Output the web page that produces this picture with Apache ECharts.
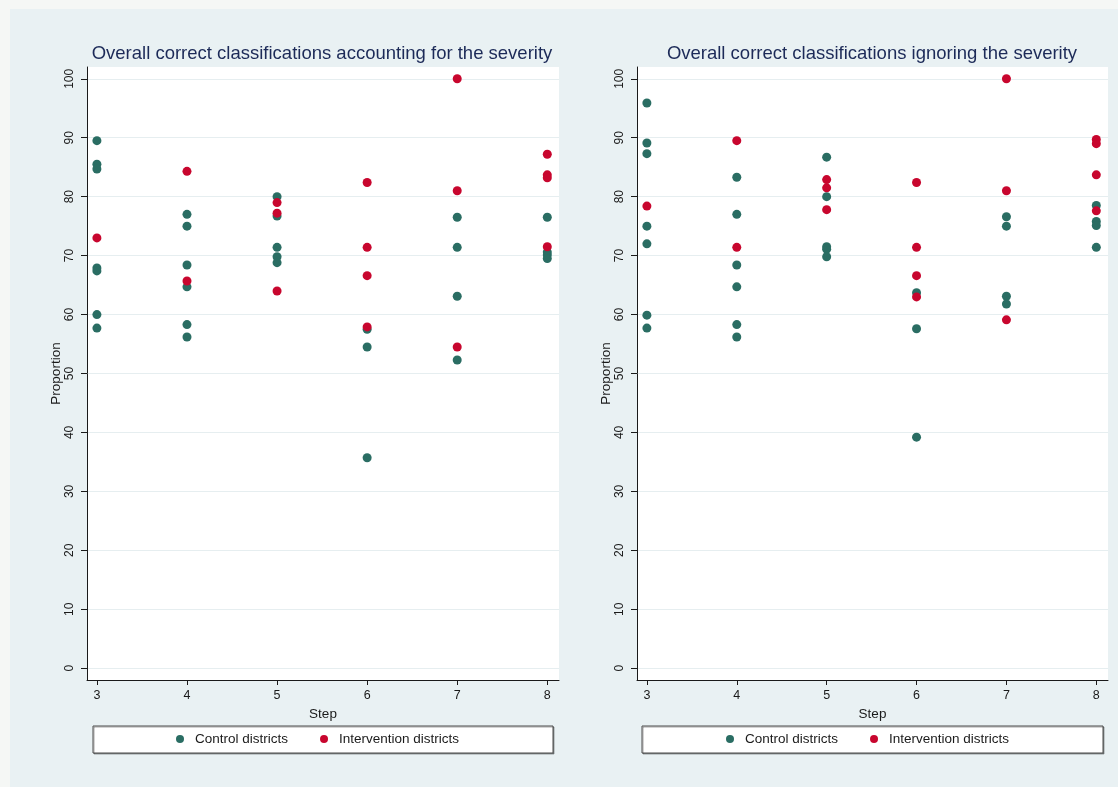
<!DOCTYPE html>
<html>
<head>
<meta charset="utf-8">
<script src="https://cdn.jsdelivr.net/npm/echarts@6/dist/echarts.min.js"></script>
<style>
html,body{margin:0;padding:0;background:#f5f7f5;}
#main{width:1118px;height:787px;}
</style>
</head>
<body>
<div id="main"></div>
<script>
// ---- Data ----
const panelTitles = [
  'Overall correct classifications accounting for the severity',
  'Overall correct classifications ignoring the severity'
];
const seriesNames = ['Control districts', 'Intervention districts'];
const xTicks = [3, 4, 5, 6, 7, 8];
const yTicks = [0, 10, 20, 30, 40, 50, 60, 70, 80, 90, 100];

// Left panel: accounting for severity
const leftControlStep = [3,3,3,3,3,3,3, 4,4,4,4,4,4, 5,5,5,5,5, 6,6,6, 7,7,7,7, 8,8,8,8];
const leftControlVal  = [89.5,85.5,84.7,67.9,67.4,60.0,57.7, 77.0,75.0,68.4,64.7,58.3,56.2, 80.0,76.7,71.4,69.8,68.8, 57.5,54.5,35.7, 76.5,71.4,63.1,52.3, 76.5,70.6,70.1,69.5];
const leftInterStep = [3, 4,4, 5,5,5, 6,6,6,6, 7,7,7, 8,8,8,8];
const leftInterVal  = [73.0, 84.3,65.7, 79.0,77.2,64.0, 82.4,71.4,66.6,57.9, 100,81.0,54.5, 87.2,83.7,83.2,71.5];

// Right panel: ignoring severity
const rightControlStep = [3,3,3,3,3,3,3, 4,4,4,4,4,4, 5,5,5,5,5, 6,6,6, 7,7,7,7, 8,8,8,8];
const rightControlVal  = [95.9,89.1,87.3,75.0,72.0,59.9,57.7, 83.3,77.0,68.4,64.7,58.3,56.2, 86.7,80.0,71.5,71.1,69.8, 63.7,57.6,39.2, 76.6,75.0,63.1,61.8, 78.5,75.8,75.1,71.4];
const rightInterStep = [3, 4,4, 5,5,5, 6,6,6,6, 7,7,7, 8,8,8,8];
const rightInterVal  = [78.4, 89.5,71.4, 82.9,81.5,77.8, 82.4,71.4,66.6,63.0, 100,81.0,59.1, 89.7,89.0,83.7,77.6];

// ---- Styling ----
const FONT = '"Liberation Sans", Arial, sans-serif';
const C_CTRL = '#2a6d63';
const C_INT = '#c8062e';
const AX = '#1a1a1a';

function pairs(xs, ys) { return xs.map((x, i) => [x, ys[i]]); }

const grids = [
  { left: 87, top: 67, width: 472, height: 613 },
  { left: 637, top: 67, width: 471, height: 613 }
];

function xAxisFor(i) {
  return {
    type: 'value', gridIndex: i, min: 2.89, max: 8.13,
    name: 'Step', nameLocation: 'middle', nameGap: 22,
    nameTextStyle: { fontFamily: FONT, fontSize: 13.5, color: AX },
    axisLine: { show: true, onZero: false, lineStyle: { color: AX, width: 1 } },
    axisTick: { show: true, length: 5, customValues: xTicks, lineStyle: { color: AX } },
    axisLabel: { customValues: xTicks, margin: 9, fontFamily: FONT, fontSize: 12.5, color: AX },
    splitLine: { show: false }
  };
}
function yAxisFor(i) {
  return {
    type: 'value', gridIndex: i, min: -2, max: 102,
    name: 'Proportion', nameLocation: 'middle', nameGap: 23,
    nameTextStyle: { fontFamily: FONT, fontSize: 13.5, color: AX },
    axisLine: { show: true, onZero: false, lineStyle: { color: AX, width: 1 } },
    axisTick: { show: true, length: 6, customValues: yTicks, lineStyle: { color: AX } },
    axisLabel: { customValues: yTicks, rotate: 90, margin: 11, fontFamily: FONT, fontSize: 12, color: AX },
    splitLine: { show: true, lineStyle: { color: '#e6eef0', width: 1 } }
  };
}

const chart = echarts.init(document.getElementById('main'), null, { renderer: 'canvas' });
chart.setOption({
  backgroundColor: '#f5f7f5',
  animation: false,
  graphic: [
    { type: 'rect', z: -10, shape: { x: 10, y: 9, width: 1108, height: 778 }, style: { fill: '#e9f1f3' }, silent: true },
    { type: 'rect', z: 1, shape: { x: 93, y: 726, width: 460, height: 27 },
      style: { fill: '#ffffff', stroke: '#4a4a4a', lineWidth: 1, shadowColor: 'rgba(0,0,0,0.35)', shadowOffsetX: 1, shadowOffsetY: 1, shadowBlur: 0 }, silent: true },
    { type: 'rect', z: 1, shape: { x: 642, y: 726, width: 461, height: 27 },
      style: { fill: '#ffffff', stroke: '#4a4a4a', lineWidth: 1, shadowColor: 'rgba(0,0,0,0.35)', shadowOffsetX: 1, shadowOffsetY: 1, shadowBlur: 0 }, silent: true }
  ],
  title: [
    { text: panelTitles[0], left: 322, top: 44, textAlign: 'center', padding: 0,
      textStyle: { fontFamily: FONT, fontSize: 18.5, fontWeight: 'normal', color: '#1c2a58' } },
    { text: panelTitles[1], left: 872, top: 44, textAlign: 'center', padding: 0,
      textStyle: { fontFamily: FONT, fontSize: 18.5, fontWeight: 'normal', color: '#1c2a58' } }
  ],
  legend: [
    { left: 176, top: 732, padding: 0, itemWidth: 8, itemHeight: 8, itemGap: 32, z: 5,
      data: seriesNames, icon: 'circle',
      textStyle: { fontFamily: FONT, fontSize: 13.5, color: AX, padding: [0, 0, 0, 6] } },
    { left: 726, top: 732, padding: 0, itemWidth: 8, itemHeight: 8, itemGap: 32, z: 5,
      data: seriesNames, icon: 'circle',
      textStyle: { fontFamily: FONT, fontSize: 13.5, color: AX, padding: [0, 0, 0, 6] } }
  ],
  grid: grids.map(g => Object.assign({ show: true, backgroundColor: '#ffffff', borderWidth: 0 }, g)),
  xAxis: [xAxisFor(0), xAxisFor(1)],
  yAxis: [yAxisFor(0), yAxisFor(1)],
  series: [
    { name: seriesNames[0], type: 'scatter', xAxisIndex: 0, yAxisIndex: 0, symbolSize: 9, itemStyle: { color: C_CTRL, opacity: 1 }, data: pairs(leftControlStep, leftControlVal) },
    { name: seriesNames[1], type: 'scatter', xAxisIndex: 0, yAxisIndex: 0, symbolSize: 9, itemStyle: { color: C_INT, opacity: 1 }, data: pairs(leftInterStep, leftInterVal) },
    { name: seriesNames[0], type: 'scatter', xAxisIndex: 1, yAxisIndex: 1, symbolSize: 9, itemStyle: { color: C_CTRL, opacity: 1 }, data: pairs(rightControlStep, rightControlVal) },
    { name: seriesNames[1], type: 'scatter', xAxisIndex: 1, yAxisIndex: 1, symbolSize: 9, itemStyle: { color: C_INT, opacity: 1 }, data: pairs(rightInterStep, rightInterVal) }
  ]
});
</script>
</body>
</html>
